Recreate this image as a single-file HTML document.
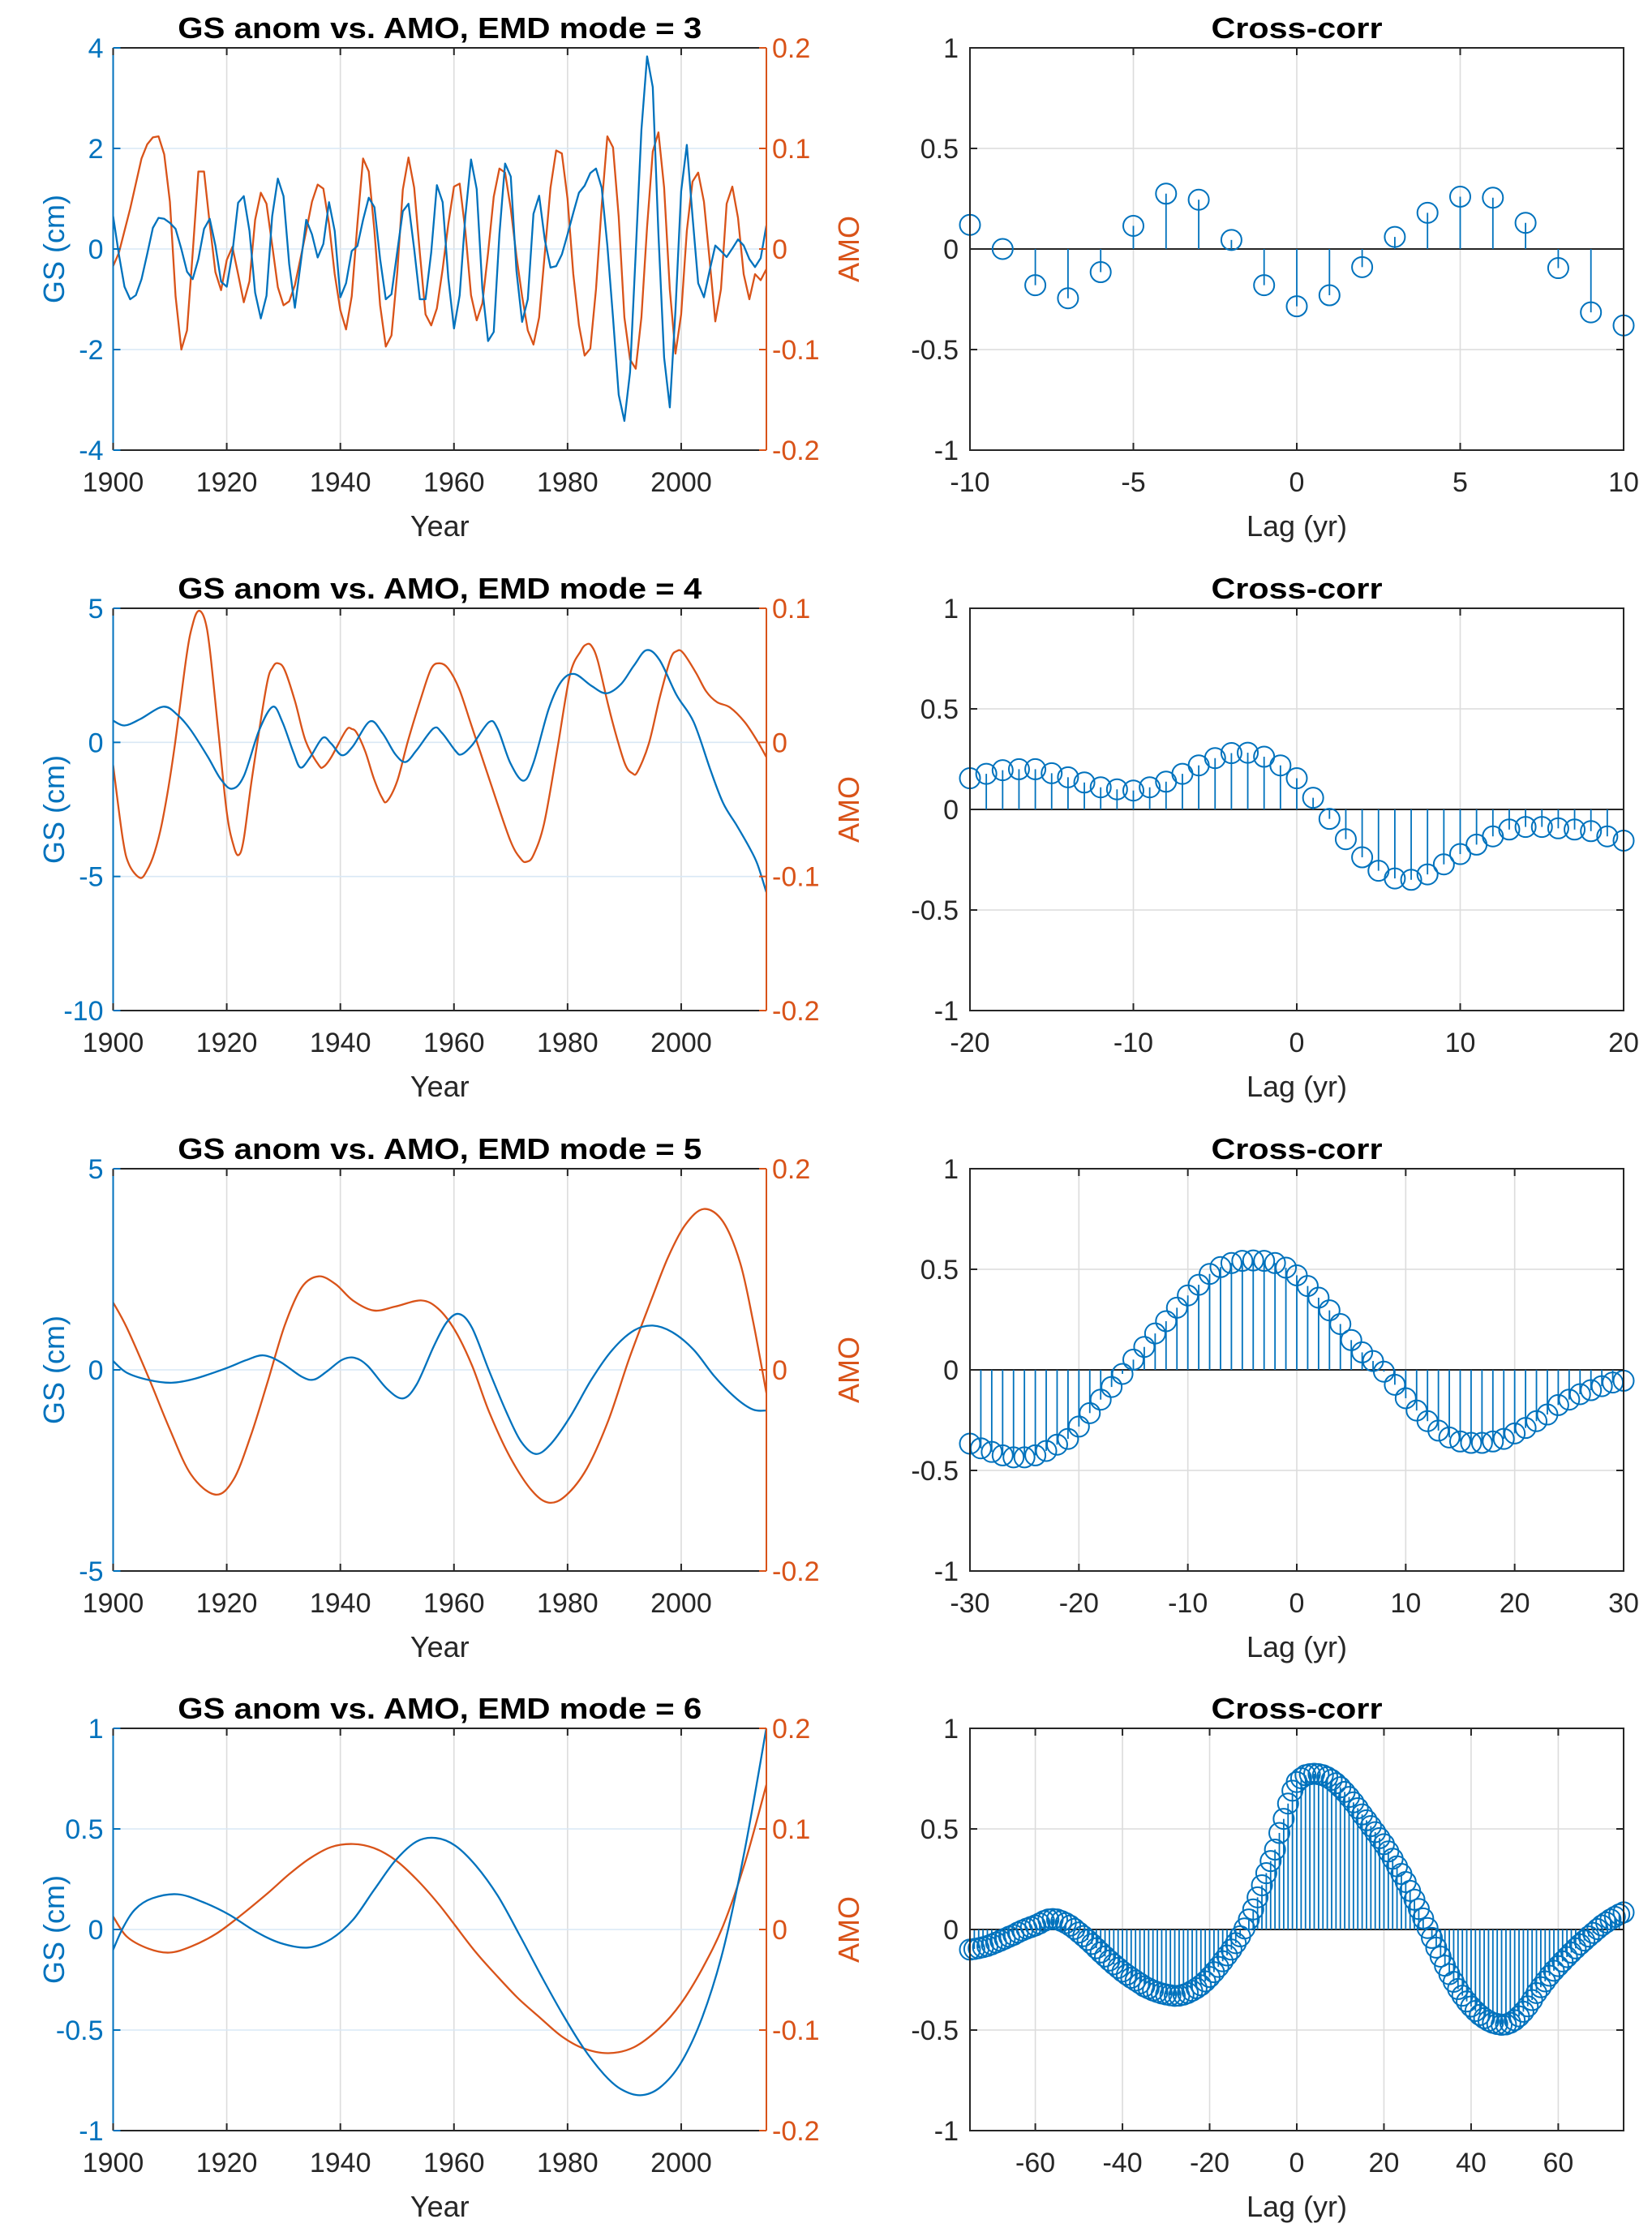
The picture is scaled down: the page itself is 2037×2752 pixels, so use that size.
<!DOCTYPE html>
<html><head><meta charset="utf-8"><style>
html,body{margin:0;padding:0;background:#fff;}
svg{display:block;font-family:"Liberation Sans",Arial,sans-serif;}
</style></head><body>
<svg id="fig" width="2037" height="2752" viewBox="0 0 2037 2752" xmlns="http://www.w3.org/2000/svg"></svg>
<script>
// ---------- DATA ----------
const m3Years = [];
for (let y = 1900; y <= 2015; y++) m3Years.push(y);
const m3Gs = [0.65,-0.1,-0.75,-1.0,-0.92,-0.6,-0.1,0.42,0.62,0.6,0.52,0.4,0.0,-0.45,-0.6,-0.2,0.4,0.6,0.07,-0.65,
-0.75,-0.07,0.92,1.05,0.36,-0.87,-1.38,-0.93,0.65,1.4,1.05,-0.3,-1.17,-0.3,0.58,0.29,-0.17,0.1,0.93,0.36,
-0.96,-0.68,-0.04,0.06,0.58,1.02,0.83,-0.2,-1.0,-0.9,-0.07,0.75,0.9,0.0,-1.0,-1.0,-0.07,1.27,0.93,-0.58,
-1.58,-0.92,0.65,1.78,1.19,-0.79,-1.83,-1.65,0.29,1.7,1.44,-0.43,-1.45,-1.0,0.7,1.06,0.18,-0.37,-0.34,-0.11,
0.29,0.72,1.12,1.26,1.51,1.6,1.22,0.07,-1.37,-2.9,-3.42,-2.45,-0.07,2.37,3.83,3.22,0.29,-2.16,-3.15,-1.22,
1.15,2.07,0.65,-0.68,-0.96,-0.43,0.07,-0.04,-0.16,0.01,0.19,0.07,-0.2,-0.36,-0.18,0.47];
const m3Amo = [-0.017,-0.004,0.018,0.04,0.065,0.09,0.104,0.111,0.112,0.094,0.047,-0.047,-0.1,-0.081,-0.004,0.077,0.077,0.025,-0.023,-0.041,
-0.011,0.002,-0.025,-0.053,-0.032,0.029,0.056,0.045,0.004,-0.038,-0.056,-0.052,-0.036,-0.009,0.018,0.047,0.064,0.06,0.025,-0.025,
-0.061,-0.08,-0.047,0.025,0.09,0.077,0.018,-0.056,-0.097,-0.086,-0.025,0.059,0.091,0.061,-0.004,-0.065,-0.076,-0.059,-0.02,0.025,
0.062,0.065,0.018,-0.046,-0.071,-0.054,-0.004,0.052,0.08,0.076,0.04,-0.007,-0.047,-0.081,-0.095,-0.068,-0.004,0.061,0.098,0.095,
0.05,-0.025,-0.076,-0.106,-0.099,-0.04,0.043,0.112,0.101,0.032,-0.068,-0.11,-0.119,-0.068,0.022,0.097,0.116,0.061,-0.04,-0.104,
-0.065,0.018,0.067,0.076,0.047,-0.011,-0.072,-0.04,0.045,0.062,0.031,-0.025,-0.05,-0.025,-0.031,-0.02];
const m3Lags = [];
for (let l = -10; l <= 10; l++) m3Lags.push(l);
const m3Corr = [0.12,0.0,-0.18,-0.245,-0.115,0.115,0.275,0.245,0.045,-0.18,-0.285,-0.23,-0.09,0.06,0.18,0.26,0.255,0.13,-0.095,-0.315,-0.38];

const m4GsYears = [1900,1902.0,1904.7,1908.8,1911.4,1913.7,1916.7,1918.9,1920.9,1923.0,1925.7,1928.1,1929.8,1931.7,1933.0,1934.7,1936.9,1938.4,1940.3,1942.2,1945.2,1947.4,1949.7,1951.5,1953.4,1956.4,1957.9,1960.2,1961.3,1963.2,1966.2,1967.7,1969.9,1972.2,1974.0,1976.7,1978.9,1981.2,1984.2,1986.8,1989.4,1991.7,1993.9,1996.2,1999.2,2002.2,2005.2,2007.4,2009.7,2011.9,2013.4,2015];
const m4Gs = [0.81,0.63,0.86,1.33,1.01,0.45,-0.55,-1.36,-1.73,-1.26,0.45,1.33,0.76,-0.35,-0.94,-0.55,0.17,-0.05,-0.48,-0.15,0.78,0.35,-0.45,-0.73,-0.30,0.52,0.35,-0.30,-0.45,-0.10,0.76,0.50,-0.76,-1.43,-0.76,1.26,2.27,2.55,2.11,1.83,2.17,2.87,3.44,3.07,1.76,0.76,-1.06,-2.27,-3.07,-3.88,-4.53,-5.59];
const m4AmoYears = [1900,1901.7,1902.8,1904.7,1905.9,1907.3,1908.8,1910.7,1912.9,1914.0,1915.0,1916.1,1917.0,1918.5,1920.0,1921.2,1922.1,1923.0,1924.5,1927.0,1928.1,1929.0,1930.2,1932.0,1933.9,1936.2,1937.1,1938.4,1941.0,1942.0,1942.9,1944.4,1945.9,1947.3,1948.2,1950.0,1951.9,1954.2,1956.0,1957.5,1959.0,1960.9,1963.2,1966.5,1969.9,1971.8,1972.8,1974.0,1975.9,1978.2,1980.4,1982.3,1983.3,1984.2,1985.3,1987.2,1988.7,1990.2,1991.4,1992.3,1994.3,1996.2,1998.1,1999.2,2000.3,2002.6,2004.4,2006.3,2008.6,2011.2,2013.4,2015];
const m4Amo = [-0.017,-0.072,-0.091,-0.101,-0.096,-0.082,-0.056,-0.007,0.064,0.088,0.098,0.092,0.070,0.009,-0.052,-0.077,-0.084,-0.072,-0.025,0.042,0.056,0.059,0.054,0.031,0.001,-0.017,-0.018,-0.011,0.009,0.010,0.007,-0.007,-0.027,-0.041,-0.044,-0.029,0.001,0.033,0.055,0.059,0.055,0.040,0.011,-0.031,-0.073,-0.087,-0.089,-0.084,-0.060,-0.005,0.050,0.068,0.073,0.072,0.061,0.027,0.003,-0.017,-0.023,-0.022,-0.001,0.033,0.062,0.068,0.067,0.052,0.038,0.030,0.026,0.015,0.001,-0.011];
const m4Lags = [];
for (let l = -20; l <= 20; l++) m4Lags.push(l);
const m4Corr = [0.155,0.177,0.195,0.2,0.2,0.18,0.16,0.134,0.11,0.1,0.094,0.11,0.138,0.177,0.219,0.255,0.28,0.282,0.262,0.219,0.155,0.058,-0.047,-0.148,-0.238,-0.305,-0.343,-0.35,-0.323,-0.273,-0.222,-0.175,-0.134,-0.1,-0.087,-0.087,-0.094,-0.1,-0.108,-0.134,-0.155];

const m5GsYears = [1900,1902.4,1906.2,1910.3,1914.4,1919.7,1923.4,1926.4,1929.4,1933.2,1935.4,1937.7,1940.3,1942.5,1944.8,1948.2,1951.0,1953.4,1956.4,1958.7,1960.9,1963.2,1966.2,1969.2,1971.8,1974.4,1977.0,1980.4,1984.2,1987.9,1991.7,1995.0,1998.4,2002.2,2005.9,2009.7,2012.7,2015];
const m5Gs = [0.22,-0.07,-0.25,-0.32,-0.22,0.03,0.24,0.36,0.20,-0.17,-0.24,-0.03,0.25,0.30,0.10,-0.47,-0.71,-0.37,0.57,1.18,1.39,1.04,-0.03,-1.04,-1.78,-2.09,-1.85,-1.18,-0.24,0.50,0.98,1.10,0.94,0.50,-0.17,-0.71,-0.99,-1.01];
const m5AmoYears = [1900,1902.4,1906.2,1909.9,1913.7,1918.0,1921.2,1924.2,1927.2,1930.2,1933.2,1936.2,1939.2,1942.2,1945.9,1949.7,1954.2,1957.2,1960.2,1963.2,1966.2,1969.9,1973.7,1976.7,1979.7,1983.4,1987.2,1990.9,1994.7,1997.7,2000.7,2004.0,2007.4,2010.4,2012.7,2015];
const m5Amo = [0.067,0.042,-0.007,-0.058,-0.104,-0.124,-0.109,-0.066,-0.012,0.044,0.082,0.093,0.085,0.069,0.059,0.063,0.069,0.061,0.039,0.004,-0.042,-0.087,-0.120,-0.132,-0.125,-0.098,-0.050,0.012,0.069,0.112,0.144,0.160,0.147,0.106,0.047,-0.023];
const m5Lags = [];
for (let l = -30; l <= 30; l++) m5Lags.push(l);
const m5Corr = [-0.367,-0.390,-0.408,-0.425,-0.435,-0.435,-0.425,-0.403,-0.372,-0.343,-0.282,-0.215,-0.148,-0.085,-0.020,0.051,0.114,0.181,0.242,0.309,0.370,0.423,0.477,0.511,0.531,0.542,0.544,0.542,0.531,0.508,0.470,0.417,0.359,0.296,0.228,0.148,0.087,0.044,-0.009,-0.074,-0.141,-0.202,-0.255,-0.302,-0.336,-0.356,-0.363,-0.363,-0.356,-0.343,-0.316,-0.289,-0.255,-0.222,-0.175,-0.148,-0.121,-0.101,-0.081,-0.063,-0.054];

const m6GsYears = [1900,1901.7,1903.9,1906.9,1911.4,1915.9,1920.4,1924.9,1929.4,1934.3,1938.4,1942.2,1945.9,1949.7,1953.4,1956.8,1960.2,1963.9,1967.7,1971.4,1975.2,1978.9,1982.7,1986.4,1989.4,1992.8,1996.2,1999.9,2003.7,2007.4,2011.2,2015];
const m6Gs = [-0.101,0.007,0.101,0.155,0.175,0.135,0.074,-0.007,-0.067,-0.090,-0.047,0.047,0.195,0.343,0.437,0.455,0.417,0.316,0.168,-0.020,-0.222,-0.410,-0.585,-0.720,-0.794,-0.824,-0.787,-0.666,-0.437,-0.101,0.397,1.003];
const m6AmoYears = [1900,1902.4,1906.2,1909.9,1913.7,1918.2,1922.7,1927.2,1931.0,1934.7,1938.4,1942.2,1945.9,1949.7,1953.4,1957.2,1960.2,1963.9,1967.7,1971.4,1975.2,1978.9,1982.7,1987.2,1991.7,1996.2,1999.9,2003.7,2007.4,2011.2,2015];
const m6Amo = [0.013,-0.007,-0.019,-0.023,-0.017,-0.004,0.015,0.036,0.055,0.071,0.082,0.085,0.081,0.069,0.050,0.026,0.004,-0.023,-0.047,-0.069,-0.088,-0.106,-0.118,-0.123,-0.117,-0.098,-0.074,-0.039,0.004,0.066,0.144];
const m6Lags = [];
for (let l = -75; l <= 75; l++) m6Lags.push(l);
const m6Corr = [-0.100,-0.097,-0.093,-0.088,-0.082,-0.074,-0.065,-0.056,-0.046,-0.036,-0.027,-0.015,-0.005,0.004,0.012,0.020,0.030,0.042,0.050,0.052,0.050,
0.042,0.032,0.019,0.003,-0.015,-0.033,-0.052,-0.072,-0.093,-0.114,-0.134,-0.154,-0.173,-0.191,-0.209,-0.225,-0.240,-0.254,-0.268,-0.283,
-0.293,-0.303,-0.311,-0.318,-0.323,-0.327,-0.330,-0.329,-0.324,-0.316,-0.305,-0.292,-0.277,-0.258,-0.236,-0.212,-0.186,-0.158,-0.129,-0.100,
-0.068,-0.034,0.005,0.050,0.100,0.160,0.220,0.280,0.340,0.397,0.480,0.550,0.626,0.690,0.733,0.752,0.767,0.772,0.774,0.772,
0.767,0.757,0.744,0.727,0.707,0.684,0.659,0.632,0.603,0.572,0.543,0.514,0.484,0.454,0.424,0.388,0.352,0.314,0.276,0.236,
0.192,0.148,0.102,0.055,0.007,-0.042,-0.090,-0.135,-0.180,-0.222,-0.260,-0.296,-0.329,-0.358,-0.383,-0.405,-0.425,-0.441,-0.454,-0.464,
-0.470,-0.474,-0.472,-0.464,-0.451,-0.432,-0.409,-0.382,-0.351,-0.316,-0.287,-0.258,-0.230,-0.205,-0.182,-0.159,-0.137,-0.115,-0.094,-0.074,
-0.055,-0.035,-0.017,0.002,0.020,0.035,0.050,0.063,0.075,0.085];

const yearTicks = [1900,1920,1940,1960,1980,2000];
const corrTicks = [-1,-0.5,0,0.5,1];

// ---------- DRAWING ----------
const NS = "http://www.w3.org/2000/svg";
const svg = document.getElementById('fig');
const BLUE = '#0072BD', ORANGE = '#D95319', DARK = '#262626';
const TF = 34;
function el(tag, attrs, parent) {
  const e = document.createElementNS(NS, tag);
  for (const k in attrs) e.setAttribute(k, attrs[k]);
  (parent || svg).appendChild(e);
  return e;
}
function txt(str, attrs, parent) { const t = el('text', attrs, parent); t.textContent = str; return t; }
function fmt(v) { return String(v); }
function smoothPath(pts) {
  let d = 'M' + pts[0][0].toFixed(1) + ',' + pts[0][1].toFixed(1);
  for (let i = 0; i < pts.length - 1; i++) {
    const p0 = pts[i-1] || pts[i], p1 = pts[i], p2 = pts[i+1], p3 = pts[i+2] || p2;
    const c1 = [p1[0] + (p2[0]-p0[0])/6, p1[1] + (p2[1]-p0[1])/6];
    const c2 = [p2[0] - (p3[0]-p1[0])/6, p2[1] - (p3[1]-p1[1])/6];
    d += 'C' + c1[0].toFixed(1)+','+c1[1].toFixed(1)+' '+c2[0].toFixed(1)+','+c2[1].toFixed(1)+' '+p2[0].toFixed(1)+','+p2[1].toFixed(1);
  }
  return d;
}

const LX0 = 139.5, LX1 = 945, RX0 = 1196, RX1 = 2002;
const rowTops = [59, 750, 1441, 2131];
const H = 496;

function timePanel(i, mode, gsX, gsY, gsTicks, amoX, amoY, amoTicks, smooth) {
  const top = rowTops[i], bot = top + H;
  const g = el('g', {}, svg);
  
  
  const xs = v => LX0 + (v - 1900) / 115 * (LX1 - LX0);
  const gmin = gsTicks[0], gmax = gsTicks[gsTicks.length-1];
  const amin = amoTicks[0], amax = amoTicks[amoTicks.length-1];
  const ys = v => bot - (v - gmin) / (gmax - gmin) * H;
  const ya = v => bot - (v - amin) / (amax - amin) * H;
  yearTicks.forEach(t => { const l = el('line', {x1: xs(t), x2: xs(t), y1: top, y2: bot, stroke: '#dcdcdc', 'stroke-width': 1.6}, g);
      });
  gsTicks.forEach(t => { const l = el('line', {x1: LX0, x2: LX1, y1: ys(t), y2: ys(t), stroke: '#d9e8f5', 'stroke-width': 1.6}, g);
      });
  const clip = 'clip' + mode;
  const cp = el('clipPath', {id: clip}, g); el('rect', {x: LX0, y: top, width: LX1-LX0, height: H}, cp);
  const bp = gsX.map((x, k) => [xs(x), ys(gsY[k])]);
  const ap = amoX.map((x, k) => [xs(x), ya(amoY[k])]);
  const mk = pts => smooth ? smoothPath(pts) : 'M' + pts.map(p => p[0].toFixed(1)+','+p[1].toFixed(1)).join('L');
  const la = el('path', {d: mk(ap), fill: 'none', stroke: ORANGE, 'stroke-width': 2.3, 'stroke-linejoin': 'round', 'clip-path': 'url(#'+clip+')'}, g);
   
  const lb = el('path', {d: mk(bp), fill: 'none', stroke: BLUE, 'stroke-width': 2.3, 'stroke-linejoin': 'round', 'clip-path': 'url(#'+clip+')'}, g);
   
  el('line', {x1: LX0, x2: LX1, y1: top, y2: top, stroke: DARK, 'stroke-width': 2}, g);
  el('line', {x1: LX0, x2: LX1, y1: bot, y2: bot, stroke: DARK, 'stroke-width': 2}, g);
  el('line', {x1: LX0, x2: LX0, y1: top, y2: bot, stroke: BLUE, 'stroke-width': 2}, g);
  el('line', {x1: LX1, x2: LX1, y1: top, y2: bot, stroke: ORANGE, 'stroke-width': 2}, g);
  yearTicks.forEach(t => {
    el('line', {x1: xs(t), x2: xs(t), y1: bot, y2: bot-9, stroke: DARK, 'stroke-width': 2}, g);
    el('line', {x1: xs(t), x2: xs(t), y1: top, y2: top+9, stroke: DARK, 'stroke-width': 2}, g);
    const tl = txt(String(t), {x: xs(t), y: bot + 51, 'font-size': TF, fill: DARK, 'text-anchor': 'middle'}, g);
     
  });
  gsTicks.forEach(t => {
    el('line', {x1: LX0, x2: LX0+9, y1: ys(t), y2: ys(t), stroke: BLUE, 'stroke-width': 2}, g);
    const tl = txt(fmt(t), {x: LX0 - 12, y: ys(t) + 12, 'font-size': TF, fill: BLUE, 'text-anchor': 'end'}, g);
     
  });
  amoTicks.forEach(t => {
    el('line', {x1: LX1, x2: LX1-9, y1: ya(t), y2: ya(t), stroke: ORANGE, 'stroke-width': 2}, g);
    const tl = txt(fmt(t), {x: LX1 + 7, y: ya(t) + 12, 'font-size': TF, fill: ORANGE, 'text-anchor': 'start'}, g);
     
  });
  const mid = (top + bot) / 2, cx = (LX0 + LX1) / 2;
  const t1 = txt('GS anom vs. AMO, EMD mode = ' + mode, {x: cx, y: top - 12, 'font-size': 36, 'font-weight': 'bold', fill: '#000', 'text-anchor': 'middle', textLength: 646, lengthAdjust: 'spacingAndGlyphs'}, g);
   
  const t2 = txt('Year', {x: cx, y: bot + 106, 'font-size': 36, fill: DARK, 'text-anchor': 'middle'}, g);
   
  const t3 = txt('GS (cm)', {x: 0, y: 0, 'font-size': 36, fill: BLUE, 'text-anchor': 'middle', transform: 'translate(79,' + mid + ') rotate(-90)'}, g);
   
  const t4 = txt('AMO', {x: 0, y: 0, 'font-size': 36, fill: ORANGE, 'text-anchor': 'middle', transform: 'translate(1059,' + mid + ') rotate(-90)'}, g);
   
}

function corrPanel(i, mode, lags, corr, lagTicks, xmin, xmax) {
  const top = rowTops[i], bot = top + H;
  const g = el('g', {}, svg);
  
  
  const xs = v => RX0 + (v - xmin) / (xmax - xmin) * (RX1 - RX0);
  const ys = v => bot - (v + 1) / 2 * H;
  lagTicks.forEach(t => { el('line', {x1: xs(t), x2: xs(t), y1: top, y2: bot, stroke: '#dcdcdc', 'stroke-width': 1.6}, g); });
  corrTicks.forEach(t => { el('line', {x1: RX0, x2: RX1, y1: ys(t), y2: ys(t), stroke: '#dcdcdc', 'stroke-width': 1.6}, g); });
  el('line', {x1: RX0, x2: RX1, y1: ys(0), y2: ys(0), stroke: DARK, 'stroke-width': 2}, g);
  lags.forEach((l, k) => {
    const s = el('line', {x1: xs(l), x2: xs(l), y1: ys(0), y2: ys(corr[k]), stroke: BLUE, 'stroke-width': 1.8}, g);
     
    const c = el('circle', {cx: xs(l), cy: ys(corr[k]), r: 12.5, fill: 'none', stroke: BLUE, 'stroke-width': 2}, g);
     
  });
  el('rect', {x: RX0, y: top, width: RX1-RX0, height: H, fill: 'none', stroke: DARK, 'stroke-width': 2}, g);
  lagTicks.forEach(t => {
    el('line', {x1: xs(t), x2: xs(t), y1: bot, y2: bot-9, stroke: DARK, 'stroke-width': 2}, g);
    el('line', {x1: xs(t), x2: xs(t), y1: top, y2: top+9, stroke: DARK, 'stroke-width': 2}, g);
    const tl = txt(String(t), {x: xs(t), y: bot + 51, 'font-size': TF, fill: DARK, 'text-anchor': 'middle'}, g);
     
  });
  corrTicks.forEach(t => {
    el('line', {x1: RX0, x2: RX0+9, y1: ys(t), y2: ys(t), stroke: DARK, 'stroke-width': 2}, g);
    el('line', {x1: RX1, x2: RX1-9, y1: ys(t), y2: ys(t), stroke: DARK, 'stroke-width': 2}, g);
    const tl = txt(fmt(t), {x: RX0 - 14, y: ys(t) + 12, 'font-size': TF, fill: DARK, 'text-anchor': 'end'}, g);
     
  });
  const cx = (RX0 + RX1) / 2;
  const t1 = txt('Cross-corr', {x: cx, y: top - 12, 'font-size': 36, 'font-weight': 'bold', fill: '#000', 'text-anchor': 'middle', textLength: 211, lengthAdjust: 'spacingAndGlyphs'}, g);
   
  const t2 = txt('Lag (yr)', {x: cx, y: bot + 106, 'font-size': 36, fill: DARK, 'text-anchor': 'middle'}, g);
   
}

timePanel(0, 3, m3Years, m3Gs, [-4,-2,0,2,4], m3Years, m3Amo, [-0.2,-0.1,0,0.1,0.2], false);
timePanel(1, 4, m4GsYears, m4Gs, [-10,-5,0,5], m4AmoYears, m4Amo, [-0.2,-0.1,0,0.1], true);
timePanel(2, 5, m5GsYears, m5Gs, [-5,0,5], m5AmoYears, m5Amo, [-0.2,0,0.2], true);
timePanel(3, 6, m6GsYears, m6Gs, [-1,-0.5,0,0.5,1], m6AmoYears, m6Amo, [-0.2,-0.1,0,0.1,0.2], true);
corrPanel(0, 3, m3Lags, m3Corr, [-10,-5,0,5,10], -10, 10);
corrPanel(1, 4, m4Lags, m4Corr, [-20,-10,0,10,20], -20, 20);
corrPanel(2, 5, m5Lags, m5Corr, [-30,-20,-10,0,10,20,30], -30, 30);
corrPanel(3, 6, m6Lags, m6Corr, [-60,-40,-20,0,20,40,60], -75, 75);
</script>
</body></html>
